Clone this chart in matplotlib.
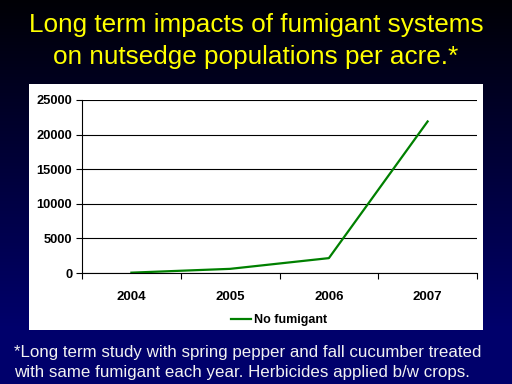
import numpy as np
import matplotlib.pyplot as plt
from matplotlib.patches import Rectangle

plt.rcParams['font.family'] = ['Liberation Sans', 'DejaVu Sans']

years = ["2004", "2005", "2006", "2007"]
no_fumigant = [50, 600, 2150, 21900]
y_ticks = [0, 5000, 10000, 15000, 20000, 25000]

fig = plt.figure(figsize=(5.12, 3.84), dpi=100)

# 背景漸層 (上黑下深藍)
bg = fig.add_axes([0, 0, 1, 1])
grad = np.clip(np.linspace(0, 1, 384) / 0.85, 0, 1).reshape(-1, 1)
top = np.array([0.0, 0.0, 0.02])
bottom = np.array([0.0, 0.0, 0.42])
img = top + (bottom - top) * grad[:, :, None]
bg.imshow(img, aspect='auto', extent=[0, 1, 0, 1], origin='upper')
bg.set_xlim(0, 1)
bg.set_ylim(0, 1)
bg.axis('off')

# 白色圖表區
bg.add_patch(Rectangle((29 / 512, 1 - 330 / 384), (483 - 29) / 512, (330 - 84) / 384,
                       facecolor='white', edgecolor='none'))

# 標題
fig.text(0.5, 1 - 25 / 384, "Long term impacts of fumigant systems",
         color='#FFFF00', fontsize=18.8, ha='center', va='center')
fig.text(0.5, 1 - 57 / 384, "on nutsedge populations per acre.*",
         color='#FFFF00', fontsize=18.8, ha='center', va='center')

# 註腳
fig.text(14 / 512, 1 - 352 / 384,
         "*Long term study with spring pepper and fall cucumber treated",
         color='#F2F2F2', fontsize=12.2, ha='left', va='center')
fig.text(14 / 512, 1 - 372 / 384,
         "with same fumigant each year. Herbicides applied b/w crops.",
         color='#F2F2F2', fontsize=12.2, ha='left', va='center')

ax = fig.add_axes([82 / 512, 1 - 273 / 384, (477 - 82) / 512, (273 - 100) / 384])
ax.set_facecolor('none')
x = np.arange(len(years))
line, = ax.plot(x, no_fumigant, color='#008000', linewidth=1.6, label='No fumigant')
ax.set_xlim(-0.5, len(years) - 0.5)
ax.set_ylim(0, 25000)
ax.set_yticks(y_ticks)
ax.set_yticklabels([str(v) for v in y_ticks], fontsize=9.3, fontweight='bold')
ax.yaxis.grid(True, color='black', linewidth=0.8)
ax.set_axisbelow(True)

ax.set_xticks(x)
ax.set_xticklabels(years, fontsize=9.5, fontweight='bold')
ax.tick_params(axis='x', which='major', length=0, pad=13)
ax.set_xticks(np.arange(-0.5, len(years)), minor=True)
ax.tick_params(axis='x', which='minor', length=4, color='black', width=0.8)
ax.tick_params(axis='y', length=4, width=0.8, pad=3)

for s in ['top', 'right']:
    ax.spines[s].set_visible(False)
ax.spines['left'].set_linewidth(0.8)
ax.spines['bottom'].set_linewidth(0.8)

fig.legend(handles=[line], loc='center', bbox_to_anchor=(279 / 512, 1 - 320 / 384),
           frameon=False, prop={'size': 9, 'weight': 'bold'},
           handlelength=1.6, handletextpad=0.3)

fig.savefig('out.png', dpi=100)
